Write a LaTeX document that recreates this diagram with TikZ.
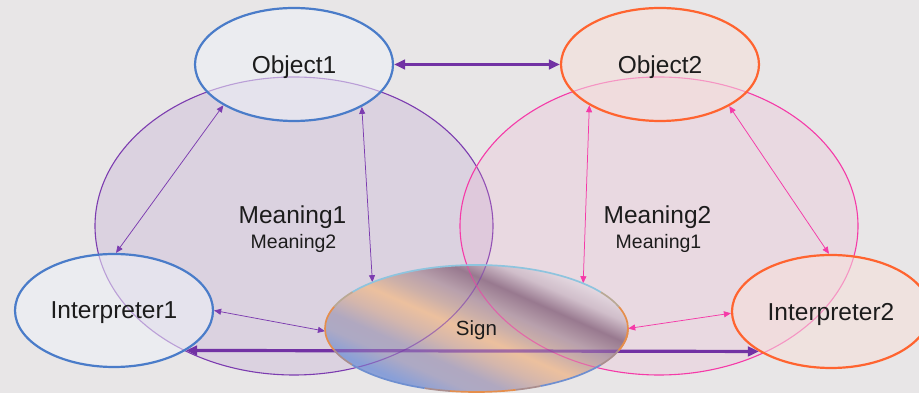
\documentclass[tikz,border=0pt]{standalone}
\usepackage{fontspec}
\setmainfont{Liberation Sans}
\usetikzlibrary{shapes.geometric,arrows.meta}
\pgfdeclarelayer{front}
\pgfsetlayers{main,front}

% palette
\definecolor{bgc}{HTML}{E8E6E7}
\definecolor{violetthick}{HTML}{7232A4}
\definecolor{violetthin}{HTML}{7C3CB0}
\definecolor{pinkline}{HTML}{F53AA8}
\definecolor{blueline}{HTML}{4A7CC9}
\definecolor{orangeline}{HTML}{FF6430}
\definecolor{meanAfill}{HTML}{BDA7D0}
\definecolor{meanBfill}{HTML}{F0A8CC}
\definecolor{objAfill}{HTML}{EEF1F8}
\definecolor{objBfill}{HTML}{F6E0DA}
\definecolor{txt}{HTML}{1C1C1C}
% sign gradient bands
\definecolor{sg0}{HTML}{A0AAD0}
\definecolor{sg1}{HTML}{889FD8}
\definecolor{sg2}{HTML}{ADA9C4}
\definecolor{sg2b}{HTML}{B0A8C0}
\definecolor{sg3}{HTML}{D4B6AC}
\definecolor{sg4}{HTML}{ECC09E}
\definecolor{sg5}{HTML}{CDB0A8}
\definecolor{sg6}{HTML}{B8A0AC}
\definecolor{sg7}{HTML}{98798F}
\definecolor{sg8}{HTML}{D0BECA}
\definecolor{sg9}{HTML}{E4D8E0}
% sign rim
\definecolor{rimtop}{HTML}{8EC4DE}
\definecolor{rimorange}{HTML}{E58E4C}
\definecolor{rimblue}{HTML}{6F8FD0}
\colorlet{rimmixT}{rimorange!50!rimtop}
\colorlet{rimmixB}{rimorange!50!rimblue}

\pgfdeclarehorizontalshading{signbands}{100bp}{%
  color(0bp)=(sg0); color(34.4bp)=(sg0); color(37.5bp)=(sg1);
  color(40.6bp)=(sg2); color(43bp)=(sg2b); color(46.1bp)=(sg3);
  color(49.1bp)=(sg4); color(51.6bp)=(sg5); color(54.2bp)=(sg6);
  color(57.5bp)=(sg7); color(60.5bp)=(sg8); color(63.3bp)=(sg9);
  color(100bp)=(sg9)}

\tikzset{
  ellnode/.style={ellipse, minimum width=198pt, minimum height=113pt,
    inner sep=0pt, line width=2.2pt, text depth=0pt,
    font=\fontsize{24.5}{28}\selectfont, text=txt, text opacity=1},
  objA/.style={ellnode, draw=blueline, fill=objAfill, fill opacity=0.55},
  objB/.style={ellnode, draw=orangeline, fill=objBfill, fill opacity=0.55},
  meaningA/.style={ellipse, minimum width=398pt, minimum height=298pt,
    inner sep=0pt, draw=violetthin, line width=1.1pt,
    fill=meanAfill, fill opacity=0.3},
  meaningB/.style={ellipse, minimum width=398pt, minimum height=298pt,
    inner sep=0pt, draw=pinkline, line width=1.1pt,
    fill=meanBfill, fill opacity=0.2},
  bigtext/.style={anchor=base, text=txt, font=\fontsize{24.5}{28}\selectfont},
  smalltext/.style={anchor=base, text=txt, font=\fontsize{19.5}{23}\selectfont},
  signnode/.style={ellipse, minimum width=303pt, minimum height=127pt,
    inner sep=0pt, text depth=0pt, text=txt,
    font=\fontsize{20.5}{24}\selectfont},
  rim/.style={line width=1.7pt},
  seethrough/.style={opacity=0.6},
  boldlink/.style={draw=violetthick, line width=3.2pt,
    {Triangle[length=11pt,width=9.5pt]}-{Triangle[length=11pt,width=9.5pt]}},
  linkA/.style={draw=violetthin, line width=0.75pt,
    {Triangle[length=7pt,width=6pt]}-{Triangle[length=7pt,width=6pt]}},
  linkB/.style={draw=pinkline, line width=0.75pt,
    {Triangle[length=7pt,width=6pt]}-{Triangle[length=7pt,width=6pt]}},
}

\begin{document}
\begin{tikzpicture}[x=1pt, y=1pt]
  \fill[bgc] (0,0) rectangle (919,393);
  \useasboundingbox (0,0) rectangle (919,393);

  % meaning fields
  \node[meaningA] (mean1) at (294,167) {};
  \node[meaningB] (mean2) at (659,167) {};

  \node[bigtext] (m1main) at (292.5,169) {Meaning1};
  \node[smalltext] (m1sub) at (293.5,144) {Meaning2};
  \node[bigtext] (m2main) at (657.5,169) {Meaning2};
  \node[smalltext] (m2sub) at (658.5,144) {Meaning1};

  % objects and interpreters
  \node[objA] (obj1) at (294,328.5) {Object1};
  \node[objB] (obj2) at (660,328.5) {Object2};
  \node[objA] (int1) at (114,82.5) {Interpreter1};
  \node[objB] (int2) at (831,81.5) {Interpreter2};

  % the sign, a banded glassy lens laid over the fields
  \coordinate (signc) at (476.5,64.5);
  \begin{pgfonlayer}{front}
    \begin{scope}
      \clip (signc) ellipse [x radius=151.5pt, y radius=63.5pt];
      \shade[shading=signbands, shading angle=66]
        ([shift={(signc)}]-160,-160) rectangle ++(320,320);
      % field outlines and the interpreter link glimpsed through the lens
      \draw[seethrough, draw=violetthin, line width=1.1pt]
        (mean1.center) ellipse [x radius=199pt, y radius=149pt];
      \draw[seethrough, draw=pinkline, line width=1.1pt]
        (mean2.center) ellipse [x radius=199pt, y radius=149pt];
      \draw[seethrough, draw=violetthick, line width=3.2pt]
        (int1.331.6) -- (int2.209.7);
    \end{scope}
    \node[signnode] (sign) at (signc) {Sign};
    \foreach \sa/\ea/\cc in {-20/20/rimorange, 20/35/rimmixT, 35/145/rimtop,
        145/160/rimmixT, 160/200/rimorange, 200/215/rimmixB, 215/250/rimblue,
        250/260/rimmixB, 260/285/rimorange, 285/295/rimmixB, 295/325/rimblue,
        325/340/rimmixB, 340/360/rimorange} {
      \draw[rim, draw=\cc] ([shift={(sign.center)}]\sa:151.5pt and 63.5pt)
        arc[start angle=\sa, end angle=\ea, x radius=151.5pt, y radius=63.5pt];
    }
  \end{pgfonlayer}

  % links
  \draw[boldlink] (obj1.east) -- (obj2.west);
  \draw[boldlink] (int1.331.6) -- (int2.209.7);

  \draw[linkA] (obj1.210.5) -- (int1.88);
  \draw[linkA] (obj1.328.7) -- (sign.156.4);
  \draw[linkA] (int1.0) -- (sign.181);

  \draw[linkB] (obj2.210.9) -- (sign.23.4);
  \draw[linkB] (obj2.329.4) -- (int2.92);
  \draw[linkB] (int2.181) -- (sign.0);
\end{tikzpicture}
\end{document}
